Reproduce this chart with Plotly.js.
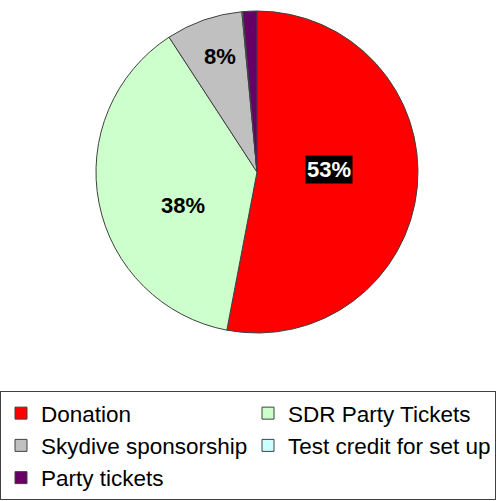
<!DOCTYPE html>
<html>
<head>
<meta charset="utf-8">
<script src="https://cdn.plot.ly/plotly-3.0.1.min.js"></script>
<style>html,body{margin:0;padding:0;background:#fff;}#chart{width:502px;height:501px;}</style>
</head>
<body>
<div id="chart"></div>
<script>
// Data
const categories = ["Donation", "SDR Party Tickets", "Skydive sponsorship", "Test credit for set up", "Party tickets"];
const values = [53.0, 37.8, 7.7, 0.1, 1.4];
const sliceColors = ["#FF0000", "#CCFFCC", "#C0C0C0", "#CCFFFF", "#660066"];

// Label styling (which slices get a label, radial fraction, angle nudge, look)
const labelShown = [true, true, true, false, false];
const labelRadius = [0.45, 0.64, 0.84, 0, 0];
const labelNudgeDeg = [-7, -7.6, 3.3, 0, 0];
const labelFontColor = ["#FFFFFF", "#000000", "#000000", "#000000", "#000000"];
const labelBg = ["#000000", "rgba(0,0,0,0)", "rgba(0,0,0,0)", "rgba(0,0,0,0)", "rgba(0,0,0,0)"];

const W = 502, H = 501;
const dom = {x: [0.1912, 0.8327], y: [0.3353, 0.978]};
const cx = (dom.x[0] + dom.x[1]) / 2 * W;
const cy = (1 - (dom.y[0] + dom.y[1]) / 2) * H;
const R = Math.min((dom.x[1] - dom.x[0]) * W, (dom.y[1] - dom.y[0]) * H) / 2;

const total = values.reduce((a, b) => a + b, 0);
const annotations = [];
let cum = 0;
values.forEach((v, i) => {
  const mid = (cum + v / 2) / total * 360 + labelNudgeDeg[i];
  cum += v;
  if (!labelShown[i]) return;
  const th = mid * Math.PI / 180;
  const px = cx + R * labelRadius[i] * Math.sin(th);
  const py = cy - R * labelRadius[i] * Math.cos(th);
  annotations.push({
    x: px / W, y: 1 - py / H, xref: "paper", yref: "paper",
    text: Math.round(v / total * 100) + "%",
    showarrow: false,
    font: {family: "Liberation Sans, Arial, sans-serif", size: 22, color: labelFontColor[i], weight: "bold"},
    bgcolor: labelBg[i], borderpad: 1
  });
});

const trace = {
  type: "pie",
  labels: categories,
  values: values,
  sort: false,
  direction: "clockwise",
  rotation: 0,
  textinfo: "none",
  hoverinfo: "label+percent",
  marker: {colors: sliceColors, line: {color: "#404040", width: 1}},
  domain: dom
};

const layout = {
  width: W, height: H,
  margin: {l: 0, r: 0, t: 0, b: 0, autoexpand: false},
  paper_bgcolor: "#FFFFFF",
  showlegend: true,
  legend: {
    orientation: "h",
    x: 0, xanchor: "left",
    y: 1 - 391 / H, yanchor: "top",
    bgcolor: "#FFFFFF",
    bordercolor: "#404040", borderwidth: 1,
    font: {family: "Liberation Sans, Arial, sans-serif", size: 22.5, color: "#000000"},
    entrywidth: 202,
    traceorder: "normal"
  },
  annotations: annotations
};

Plotly.newPlot("chart", [trace], layout, {displayModeBar: false, staticPlot: true});
</script>
</body>
</html>
